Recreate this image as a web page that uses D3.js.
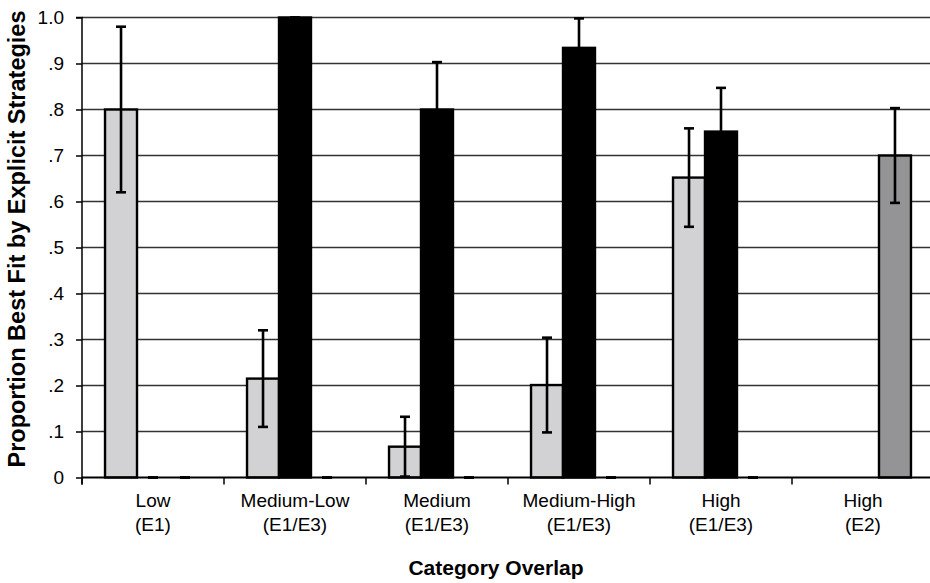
<!DOCTYPE html>
<html>
<head>
<meta charset="utf-8">
<script src="https://cdn.jsdelivr.net/npm/d3@7"></script>
<style>
  html, body { margin: 0; padding: 0; background: #fff; }
  svg { display: block; font-family: "Liberation Sans", Arial, Helvetica, sans-serif; }
</style>
</head>
<body>
<svg id="chart" width="930" height="583"></svg>
<script>
// Category overlap conditions (two-line labels)
const overlapLevels = ["Low", "Medium-Low", "Medium", "Medium-High", "High", "High"];
const experiments   = ["(E1)", "(E1/E3)", "(E1/E3)", "(E1/E3)", "(E1/E3)", "(E2)"];

// Three series per condition; null = not present in that condition
const seriesNames = ["light", "black", "gray"];
const lightValues = [0.80, 0.215, 0.067, 0.201, 0.652, null];
const lightErrors = [0.18, 0.105, 0.065, 0.103, 0.107, null];
const blackValues = [0, 1.0, 0.80, 0.934, 0.752, null];
const blackErrors = [0, 0, 0.103, 0.064, 0.095, null];
const grayValues  = [0, 0, 0, 0, 0, 0.70];
const grayErrors  = [0, 0, 0, 0, 0, 0.103];

const yTicks = [0, 0.1, 0.2, 0.3, 0.4, 0.5, 0.6, 0.7, 0.8, 0.9, 1.0];

const fills = { light: "#d2d2d4", black: "#000000", gray: "#949497" };

const svg = d3.select("#chart");
const plotLeft = 82, plotRight = 934, plotTop = 17.5, plotBottom = 477.5;

const idx = d3.range(overlapLevels.length);
const x0 = d3.scaleBand().domain(idx).range([plotLeft, plotRight]).paddingInner(0).paddingOuter(0);
const x1 = d3.scaleBand().domain(seriesNames).range([0, x0.bandwidth()]).paddingInner(0).paddingOuter(0.72);
const y = d3.scaleLinear().domain([0, 1]).range([plotBottom, plotTop]);

// Gridlines
svg.append("g")
  .selectAll("line")
  .data(yTicks.filter(d => d > 0))
  .join("line")
  .attr("x1", plotLeft).attr("x2", 930)
  .attr("y1", d => y(d)).attr("y2", d => y(d))
  .attr("stroke", "#333").attr("stroke-width", 1.7);

// Build bar records
const valuesBySeries = { light: lightValues, black: blackValues, gray: grayValues };
const errorsBySeries = { light: lightErrors, black: blackErrors, gray: grayErrors };
const records = [];
idx.forEach(i => {
  seriesNames.forEach(s => {
    const v = valuesBySeries[s][i];
    if (v === null) return;
    records.push({ i, s, v, e: errorsBySeries[s][i] });
  });
});

// Bars
svg.append("g")
  .selectAll("rect")
  .data(records.filter(d => d.v > 0))
  .join("rect")
  .attr("x", d => x0(d.i) + x1(d.s))
  .attr("y", d => y(d.v))
  .attr("width", x1.bandwidth())
  .attr("height", d => y(0) - y(d.v))
  .attr("fill", d => fills[d.s])
  .attr("stroke", "#000")
  .attr("stroke-width", 2.4);

// Error bars
const cap = 5;
const eb = svg.append("g").attr("stroke", "#000").attr("stroke-width", 2.6);
records.forEach(d => {
  const cx = x0(d.i) + x1(d.s) + x1.bandwidth() / 2;
  const hi = Math.min(d.v + d.e, 1), lo = Math.max(d.v - d.e, 0);
  eb.append("line").attr("x1", cx).attr("x2", cx).attr("y1", y(hi)).attr("y2", y(lo));
  eb.append("line").attr("x1", cx - cap).attr("x2", cx + cap).attr("y1", y(hi)).attr("y2", y(hi));
  eb.append("line").attr("x1", cx - cap).attr("x2", cx + cap).attr("y1", y(lo)).attr("y2", y(lo));
});

// Baseline
svg.append("line")
  .attr("x1", plotLeft).attr("x2", 930)
  .attr("y1", y(0)).attr("y2", y(0))
  .attr("stroke", "#000").attr("stroke-width", 1.8);

// Category boundary ticks
svg.append("g")
  .selectAll("line")
  .data(idx.concat([idx.length]))
  .join("line")
  .attr("x1", d => plotLeft + d * x0.step()).attr("x2", d => plotLeft + d * x0.step())
  .attr("y1", y(0)).attr("y2", y(0) + 7)
  .attr("stroke", "#000").attr("stroke-width", 1.5);

// Y axis
const yAxis = d3.axisLeft(y)
  .tickValues(yTicks)
  .tickSize(6)
  .tickPadding(12)
  .tickFormat(d => d === 0 ? "0" : d === 1 ? "1.0" : d3.format(".1f")(d).replace(/^0/, ""));
const gy = svg.append("g").attr("transform", `translate(${plotLeft},0)`).call(yAxis);
gy.select(".domain").attr("stroke", "#000").attr("stroke-width", 1.5)
  .attr("d", `M-6,${plotTop}H0V${plotBottom + 7}`);
gy.selectAll(".tick line").attr("stroke", "#000").attr("stroke-width", 1.5);
gy.selectAll(".tick text").attr("font-size", 19).attr("fill", "#000")
  .attr("font-family", "Liberation Sans, Arial, sans-serif");

// Category labels
const lab = svg.append("g").attr("font-size", 19).attr("fill", "#000").attr("text-anchor", "middle");
idx.forEach(i => {
  const cx = x0(i) + x0.bandwidth() / 2;
  lab.append("text").attr("x", cx).attr("y", 507).text(overlapLevels[i]);
  lab.append("text").attr("x", cx).attr("y", 531).text(experiments[i]);
});

// Axis titles
svg.append("text")
  .attr("x", 496).attr("y", 575)
  .attr("text-anchor", "middle")
  .attr("font-size", 21).attr("font-weight", "bold")
  .text("Category Overlap");

svg.append("text")
  .attr("transform", `translate(25,239) rotate(-90)`)
  .attr("text-anchor", "middle")
  .attr("font-size", 23.5).attr("font-weight", "bold")
  .text("Proportion Best Fit by Explicit Strategies");
</script>
</body>
</html>
